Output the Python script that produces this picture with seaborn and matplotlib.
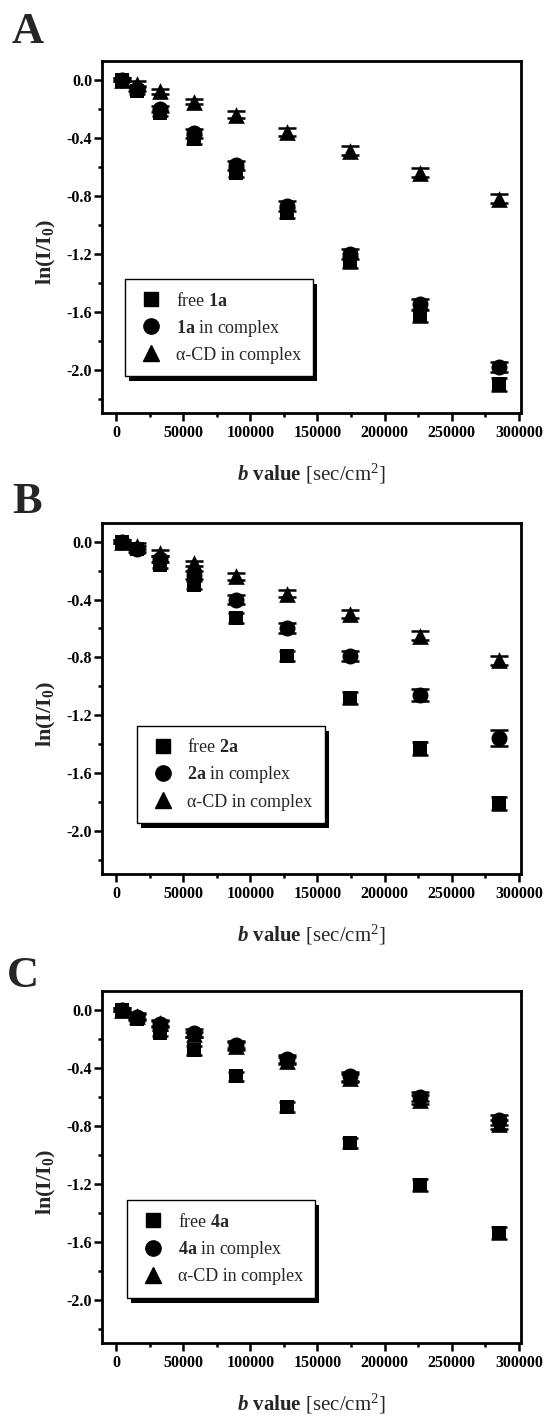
import numpy as np
import pandas as pd
import matplotlib
matplotlib.use("Agg")
import matplotlib.pyplot as plt
import seaborn as sns
from matplotlib.lines import Line2D
from matplotlib.patches import Rectangle
from matplotlib.ticker import FixedLocator

# ---- data -------------------------------------------------------------
b_values = [4700, 16000, 33000, 58000, 89000, 127000, 174000, 226000, 285000]

# Panel A: compound 1a
free_1a = [0.0, -0.08, -0.23, -0.41, -0.64, -0.92, -1.26, -1.63, -2.10]
complex_1a = [0.0, -0.06, -0.20, -0.37, -0.59, -0.87, -1.20, -1.55, -1.98]
cd_1a = [0.0, -0.03, -0.08, -0.15, -0.24, -0.36, -0.49, -0.64, -0.82]
err_free_1a = [0.01, 0.02, 0.02, 0.03, 0.03, 0.035, 0.04, 0.045, 0.045]
err_complex_1a = [0.01, 0.02, 0.02, 0.03, 0.03, 0.035, 0.035, 0.04, 0.035]
err_cd_1a = [0.01, 0.02, 0.02, 0.02, 0.025, 0.025, 0.03, 0.03, 0.03]

# Panel B: compound 2a
free_2a = [0.0, -0.05, -0.16, -0.30, -0.53, -0.79, -1.08, -1.43, -1.81]
complex_2a = [0.0, -0.05, -0.12, -0.23, -0.40, -0.60, -0.79, -1.06, -1.36]
cd_2a = [0.0, -0.03, -0.08, -0.15, -0.24, -0.36, -0.50, -0.65, -0.82]
err_free_2a = [0.01, 0.02, 0.02, 0.03, 0.035, 0.035, 0.04, 0.045, 0.045]
err_complex_2a = [0.01, 0.02, 0.02, 0.03, 0.03, 0.035, 0.035, 0.04, 0.057]
err_cd_2a = [0.01, 0.02, 0.02, 0.02, 0.025, 0.025, 0.03, 0.03, 0.03]

# Panel C: compound 4a
free_4a = [0.0, -0.06, -0.16, -0.28, -0.46, -0.67, -0.92, -1.21, -1.54]
complex_4a = [0.0, -0.05, -0.10, -0.16, -0.24, -0.34, -0.46, -0.60, -0.76]
cd_4a = [0.0, -0.04, -0.09, -0.17, -0.25, -0.35, -0.47, -0.62, -0.79]
err_free_4a = [0.01, 0.02, 0.02, 0.03, 0.03, 0.035, 0.035, 0.04, 0.04]
err_complex_4a = [0.01, 0.02, 0.02, 0.025, 0.025, 0.03, 0.03, 0.03, 0.035]
err_cd_4a = [0.01, 0.02, 0.02, 0.02, 0.025, 0.025, 0.03, 0.03, 0.03]

panel_letters = ["A", "B", "C"]
compounds = ["1a", "2a", "4a"]
x_ticks = [0, 50000, 100000, 150000, 200000, 250000, 300000]
x_tick_labels = ["0", "50000", "100000", "150000", "200000", "250000", "300000"]
y_ticks = [0.0, -0.4, -0.8, -1.2, -1.6, -2.0]
y_tick_labels = ["0.0", "-0.4", "-0.8", "-1.2", "-1.6", "-2.0"]

panels = [
    (free_1a, complex_1a, cd_1a, err_free_1a, err_complex_1a, err_cd_1a),
    (free_2a, complex_2a, cd_2a, err_free_2a, err_complex_2a, err_cd_2a),
    (free_4a, complex_4a, cd_4a, err_free_4a, err_complex_4a, err_cd_4a),
]

# ---- style ------------------------------------------------------------
sns.set_theme(style="ticks")
plt.rcParams.update({
    "font.family": ["Liberation Serif", "DejaVu Serif"],
    "mathtext.fontset": "custom",
    "mathtext.rm": "Liberation Serif",
    "mathtext.bf": "Liberation Serif:bold",
    "mathtext.it": "Liberation Serif:italic:bold",
    "axes.unicode_minus": False,
    "axes.linewidth": 2.0,
    "axes.edgecolor": "black",
    "xtick.color": "black",
    "ytick.color": "black",
})

fig = plt.figure(figsize=(5.47, 14.16), dpi=100)
W, H = 547, 1416
ax_left, ax_right = 102, 521
ax_tops = [61, 523, 991]
ax_bottoms = [413, 874, 1343]
legend_anchor = [(0.055, 0.381), (0.083, 0.4225), (0.06, 0.406)]
letter_pos = [(12, 43), (12, 513), (7, 987)]

marker_styles = [("s", 10.0), ("o", 11.5), ("^", 12.0)]
axes, legends = [], []

for i, (letter, comp, series) in enumerate(zip(panel_letters, compounds, panels)):
    top, bot = ax_tops[i], ax_bottoms[i]
    ax = fig.add_axes([ax_left / W, 1 - bot / H, (ax_right - ax_left) / W, (bot - top) / H])
    axes.append(ax)
    ys = series[:3]
    errs = series[3:]
    for y, e, (mk, ms) in zip(ys, errs, marker_styles):
        df = pd.DataFrame({"b": b_values, "ln": y, "err": e})
        ax.errorbar(df["b"], df["ln"], yerr=df["err"], fmt="none", ecolor="black",
                    elinewidth=1.6, capsize=ms * 0.55, capthick=1.8, zorder=2)
        sns.scatterplot(data=df, x="b", y="ln", marker=mk, s=ms ** 2, color="black",
                        edgecolor="black", linewidth=0, ax=ax, zorder=3, legend=False)

    ax.set_xlim(-10400, 301500)
    ax.set_ylim(-2.30, 0.13)
    ax.set_xticks(x_ticks)
    ax.set_xticklabels(x_tick_labels)
    ax.set_yticks(y_ticks)
    ax.set_yticklabels(y_tick_labels)
    ax.xaxis.set_minor_locator(FixedLocator([25000, 75000, 125000, 175000, 225000, 275000]))
    ax.yaxis.set_minor_locator(FixedLocator([-0.2, -0.6, -1.0, -1.4, -1.8, -2.2]))
    ax.tick_params(axis="both", which="major", direction="out", length=5.5, width=1.8,
                   labelsize=11.5, pad=1.5)
    ax.tick_params(axis="both", which="minor", direction="out", length=3, width=1.8)
    ax.tick_params(axis="x", which="major", pad=3)
    for lab in ax.get_xticklabels() + ax.get_yticklabels():
        lab.set_fontweight("bold")
    for sp in ax.spines.values():
        sp.set_linewidth(2.0)
        sp.set_color("black")

    ax.set_xlabel(r"$b$ $\mathbf{value}$ [sec/cm$^{2}$]", fontsize=15, labelpad=15)
    ax.set_ylabel(r"ln(I/I$_{\mathbf{0}}$)", fontsize=16, fontweight="bold")
    ax.yaxis.set_label_coords(-0.105, 0.457)

    comp_bold = r"$\mathbf{" + comp + r"}$"
    handles = [
        Line2D([], [], marker="s", color="black", linestyle="none", markersize=10),
        Line2D([], [], marker="o", color="black", linestyle="none", markersize=11),
        Line2D([], [], marker="^", color="black", linestyle="none", markersize=11.5),
    ]
    labels = [f"free {comp_bold}", f"{comp_bold} in complex", "α-CD in complex"]
    leg = ax.legend(handles, labels, loc="upper left", bbox_to_anchor=legend_anchor[i],
                    borderaxespad=0, fontsize=13, frameon=True, fancybox=False,
                    framealpha=1, edgecolor="black", borderpad=0.7, handlelength=1.5,
                    handletextpad=0.6, labelspacing=0.45)
    leg.get_frame().set_linewidth(1.0)
    legends.append(leg)

    lx, ly = letter_pos[i]
    fig.text(lx / W, 1 - ly / H, letter, fontsize=32, fontweight="bold",
             ha="left", va="baseline")

# drop shadow under each legend box
fig.canvas.draw()
renderer = fig.canvas.get_renderer()
for ax, leg in zip(axes, legends):
    bb = leg.get_frame().get_window_extent(renderer)
    inv = ax.transAxes.inverted()
    (x0, y0), (x1, y1) = inv.transform([[bb.x0 + 4, bb.y0 - 5], [bb.x1 + 4, bb.y1 - 5]])
    ax.add_patch(Rectangle((x0, y0), x1 - x0, y1 - y0, transform=ax.transAxes,
                           facecolor="black", edgecolor="none", zorder=4.9, clip_on=False))

fig.savefig("out.png", dpi=100)
